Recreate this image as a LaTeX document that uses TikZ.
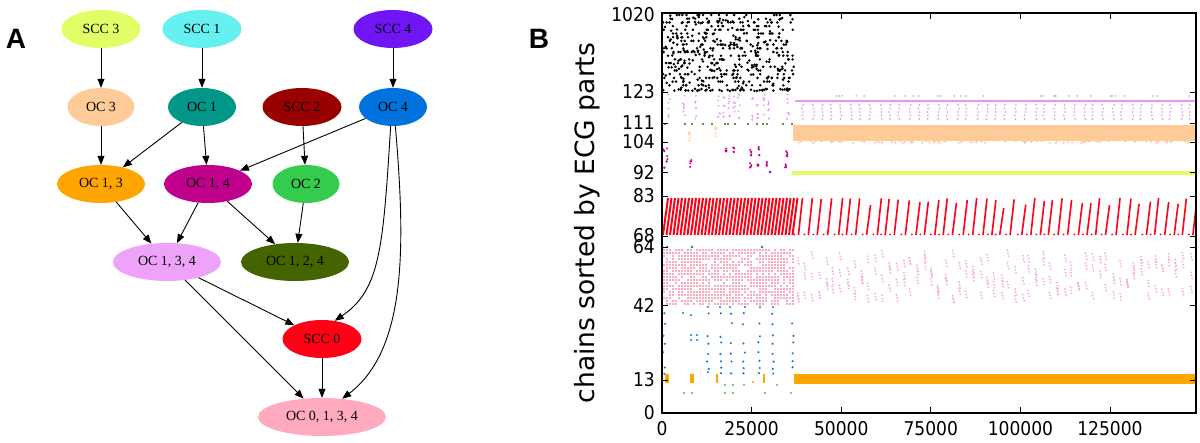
\documentclass[tikz,border=0pt]{standalone}
\usepackage{fontspec}
\setmainfont{Liberation Serif}
\newfontfamily\plotfont{DejaVu Sans}
\newfontfamily\tickfont[FakeStretch=0.9]{DejaVu Sans}
\newfontfamily\panelfont{Liberation Sans}
\usetikzlibrary{shapes.geometric,arrows.meta}
\definecolor{cscc3}{RGB}{224,255,102}
\definecolor{cscc1}{RGB}{102,240,240}
\definecolor{cscc4}{RGB}{112,22,245}
\definecolor{coc3}{RGB}{255,204,153}
\definecolor{coc1}{RGB}{0,150,136}
\definecolor{cscc2}{RGB}{153,0,0}
\definecolor{coc4}{RGB}{0,114,222}
\definecolor{coc13}{RGB}{255,165,0}
\definecolor{coc14}{RGB}{192,0,140}
\definecolor{coc2}{RGB}{51,204,77}
\definecolor{coc134}{RGB}{238,162,250}
\definecolor{coc124}{RGB}{68,100,0}
\definecolor{cscc0}{RGB}{255,0,20}
\definecolor{coc0134}{RGB}{255,170,190}
\definecolor{pviol}{RGB}{232,150,245}
\definecolor{ppink}{RGB}{250,170,190}
\definecolor{pblue}{RGB}{30,120,210}
\definecolor{pteal}{RGB}{0,150,136}
\begin{document}
\begin{tikzpicture}[x=1pt,y=-1pt,
  gnode/.style={ellipse,minimum width=#1,minimum height=38pt,inner sep=0pt,
    font=\fontsize{14}{14}\selectfont},
  edge/.style={-{Triangle[length=9pt,width=7pt]},line width=0.9pt,black},
  ticklab/.style={font=\tickfont\fontsize{19}{19}\selectfont,inner sep=0pt},
  panel/.style={font=\panelfont\bfseries\fontsize{28}{28}\selectfont,inner sep=0pt},
  dot/.style={radius=1.4pt}]
\useasboundingbox (0,0) rectangle (1200,443);
% ---------------- Panel A ----------------
\node[panel] (pA) at (16,39) {A};
\node[gnode=79pt,fill=cscc3] (scc3) at (101,29) {SCC 3};
\node[gnode=79pt,fill=cscc1] (scc1) at (202,29) {SCC 1};
\node[gnode=79pt,fill=cscc4] (scc4) at (393,29) {SCC 4};
\node[gnode=67pt,fill=coc3] (oc3) at (101,107) {OC 3};
\node[gnode=68pt,fill=coc1] (oc1) at (202,107) {OC 1};
\node[gnode=79pt,fill=cscc2] (scc2) at (302,107) {SCC 2};
\node[gnode=68pt,fill=coc4] (oc4) at (393,107) {OC 4};
\node[gnode=88pt,fill=coc13] (oc13) at (101,184) {OC 1, 3};
\node[gnode=88pt,fill=coc14] (oc14) at (208,184) {OC 1, 4};
\node[gnode=67pt,fill=coc2] (oc2) at (306,184) {OC 2};
\node[gnode=108pt,fill=coc134] (oc134) at (167,262) {OC 1, 3, 4};
\node[gnode=108pt,fill=coc124] (oc124) at (295,262) {OC 1, 2, 4};
\node[gnode=79pt,fill=cscc0] (scc0) at (322,339) {SCC 0};
\node[gnode=128pt,fill=coc0134] (oc0134) at (322,417) {OC 0, 1, 3, 4};
\draw[edge] (scc3) -- (oc3);
\draw[edge] (scc1) -- (oc1);
\draw[edge] (scc4) -- (oc4);
\draw[edge] (oc3) -- (oc13);
\draw[edge] (oc1) -- (oc13);
\draw[edge] (oc1) -- (oc14);
\draw[edge] (scc2) -- (oc2);
\draw[edge] (oc4) -- (oc14);
\draw[edge] (oc13) -- (oc134);
\draw[edge] (oc14) -- (oc134);
\draw[edge] (oc14) -- (oc124);
\draw[edge] (oc2) -- (oc124);
\draw[edge] (oc134) -- (scc0);
\draw[edge] (oc134) -- (oc0134);
\draw[edge] (scc0) -- (oc0134);
\draw[edge] (oc4.-97) .. controls (383,250) and (380,290) .. (scc0.55);
\draw[edge] (oc4.-83) .. controls (406,250) and (406,350) .. (oc0134.42);
% ---------------- Panel B ----------------
\node[panel] (pB) at (539,39) {B};
\node[rotate=90,font=\plotfont\fontsize{26.5}{26.5}\selectfont,inner sep=0pt] (ylab) at (587,223) {chains sorted by ECG parts};
\begin{scope}
\clip (662,13) rectangle (1196,413);
\pgfmathsetseed{7}
% black block
\foreach \i in {1,...,300}{\fill[black] ({663+131*rnd},{15+3.7*int(20*rnd)}) circle[dot];}
\foreach \i in {1,...,170}{\fill[black] ({663+131*rnd},{15+74*rnd}) circle[dot];}
\foreach \i in {1,...,45}{\fill[black] ({663+131*rnd},{89+2*rnd}) circle[dot];}
% violet
\draw[pviol,line width=2.6pt] (795,101) -- (1196,101);
\foreach \k in {0,...,40}{
  \pgfmathsetmacro\cx{800+\k*9.7+3*rnd}
  \foreach \j in {0,...,4}{\fill[pviol] ({\cx+1.5*rnd},{105+\j*3.5}) circle[radius=1pt];}
}
\foreach \i in {1,...,30}{\fill[pviol] ({795+400*rnd},96) circle[radius=1pt];}
\foreach \cx in {668,683,695,718,723,728,733,738,752,757,763,768,787}{
  \foreach \j in {1,...,7}{\fill[pviol] ({\cx+2*rnd},{94+26*rnd}) circle[radius=1pt];}
}
% olive row
\foreach \cx in {665,685,692,703,712,725,728,735,748,757,763,767,783,792}{\fill[coc124] (\cx,124) circle[radius=1.2pt];}
% peach
\fill[coc3] (793,125) rectangle (1196,141);
\foreach \i in {1,...,90}{\fill[coc3] ({794+402*rnd},{141+2*rnd}) circle[radius=1.2pt];}
\foreach \cx/\ya/\yb in {689/127/142,715/127/138}{
  \foreach \j in {1,...,6}{\fill[coc3] ({\cx+1.5*rnd},{\ya+(\yb-\ya)*rnd}) circle[radius=1pt];}
}
% magenta
\foreach \cx/\ya/\yb in {663/145/168,666/148/166,690/160/167,725/147/153,733/147/153,750/147/157,758/147/157,750/163/168,757/163/168,766/160/167,786/147/157,785/163/168}{
  \foreach \j in {1,...,5}{\fill[coc14] ({\cx+1.5*rnd},{\ya+(\yb-\ya)*rnd}) circle[radius=1.1pt];}
}
\fill[cscc4] (770,172) circle[radius=1.5pt];
% yellow-green line
\draw[cscc3,line width=3.3pt] (792,173) -- (1196,173);
% red
\foreach \k in {0,...,37}{\draw[cscc0,line width=2pt] ({663+\k*3.5},235) -- ({668+\k*3.5},198);}
\foreach \k in {0,...,41}{
  \pgfmathsetmacro\cx{798+\k*9.6+3*rnd}
  \pgfmathsetmacro\ct{198+12*rnd*rnd}
  \draw[cscc0,line width=1.6pt] (\cx,235) -- ({\cx+4},\ct);
  \fill[cscc0] ({\cx-4},234.5) circle[radius=1pt];
}
% teal
\foreach \cx in {667,692,762}{\fill[pteal] (\cx,247) circle[radius=1.3pt];}
% pink left dense
\foreach \xx in {663,666,...,792}{
  \foreach \yy in {249,252,...,303}{
    \pgfmathtruncatemacro\keep{rnd<0.75?1:0}
    \ifnum\keep=1 \fill[ppink] (\xx,\yy) rectangle ++(2.4,1.9);\fi
  }
}
% pink right sparse: short vertical runs
\foreach \k in {0,...,56}{
  \pgfmathsetmacro\cx{797+\k*7+2*rnd}
  \foreach \r in {1,2,3}{
    \pgfmathsetmacro\ry{250+46*rnd}
    \foreach \j in {0,1,2}{\fill[ppink] ({\cx+0.6*\j},{\ry+3*\j}) circle[radius=1pt];}
  }
}
% blue
\foreach \cx in {708,720,730,745,760,773}{\fill[pblue] (\cx,307) circle[radius=1.2pt];}
\fill[pblue] (683,313) circle[radius=1.2pt];
\fill[pblue] (691,315) circle[radius=1.2pt];
\foreach \cx in {663,707,720,730,743,758,772,792}{
  \foreach \yy in {313,323,335,342,352,360,367,372}{
    \pgfmathtruncatemacro\keep{rnd<0.8?1:0}
    \ifnum\keep=1 \fill[pblue] ({\cx+2*rnd},{\yy+2*rnd}) circle[radius=1.2pt];\fi
  }
}
\foreach \cx in {691,697}{\fill[pblue] (\cx,335) circle[radius=1.2pt];\fill[pblue] (\cx,340) circle[radius=1.2pt];}
% orange
\fill[coc13] (794,374) rectangle (1196,384);
\foreach \cx/\w in {665/4,690/4,716/2,763/2}{\fill[coc13] (\cx,374) rectangle ++(\w,9);}
\fill[coc13] (753,382) circle[radius=1.2pt];
% green
\foreach \cx in {725,733,744,777}{\fill[coc2] (\cx,385) circle[radius=1.2pt];}
\foreach \cx in {684,692,725,733,765,791}{\fill[coc2] (\cx,393) circle[radius=1.2pt];}
\end{scope}
% axes box
\draw[line width=1.3pt] (662,13) rectangle (1196,413);
\foreach \xv in {751.6,841.2,930.8,1020.4,1110}{
  \draw[line width=0.9pt] (\xv,413) -- (\xv,407);
  \draw[line width=0.9pt] (\xv,13) -- (\xv,19);
}
\foreach \yv in {13,92,123,142,172,196,236,247,305,380,413}{
  \draw[line width=0.9pt] (662,\yv) -- (668,\yv);
  \draw[line width=0.9pt] (1196,\yv) -- (1190,\yv);
}
\node[ticklab,anchor=east] (y1020) at (655,15) {1020};
\node[ticklab,anchor=east] (y123) at (655,92) {123};
\node[ticklab,anchor=east] (y111) at (655,123) {111};
\node[ticklab,anchor=east] (y104) at (655,142) {104};
\node[ticklab,anchor=east] (y92) at (655,173) {92};
\node[ticklab,anchor=east] (y83) at (655,196) {83};
\node[ticklab,anchor=east] (y68) at (655,236) {68};
\node[ticklab,anchor=east] (y64) at (655,247) {64};
\node[ticklab,anchor=east] (y42) at (655,305) {42};
\node[ticklab,anchor=east] (y13) at (655,380) {13};
\node[ticklab,anchor=east] (y0) at (655,413) {0};
\node[ticklab] (x0) at (662,429) {0};
\node[ticklab] (x25) at (751.6,429) {25000};
\node[ticklab] (x50) at (841.2,429) {50000};
\node[ticklab] (x75) at (930.8,429) {75000};
\node[ticklab] (x100) at (1020.4,429) {100000};
\node[ticklab] (x125) at (1110,429) {125000};
\end{tikzpicture}
\end{document}
